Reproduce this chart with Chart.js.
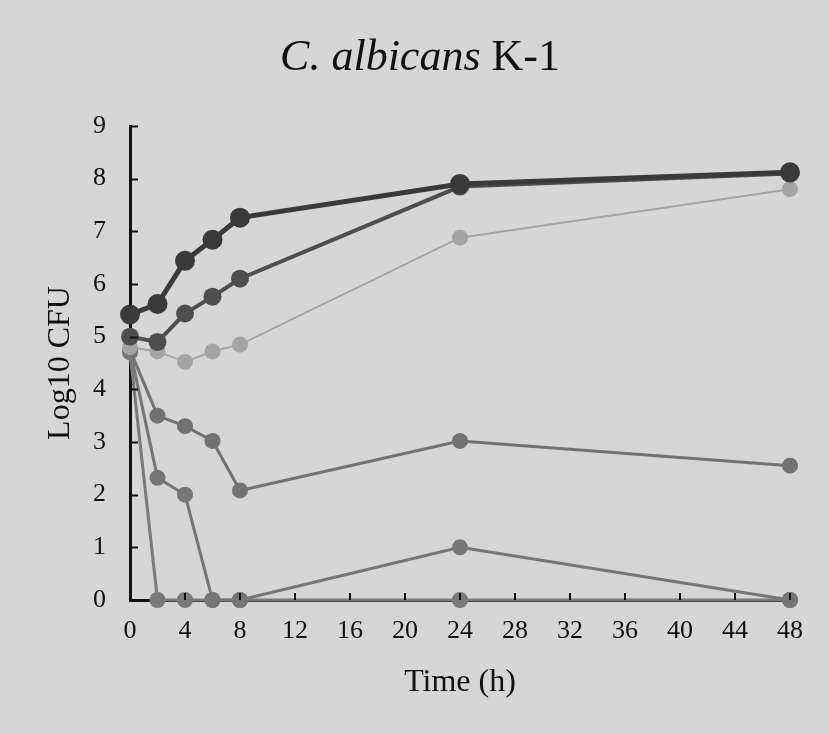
<!DOCTYPE html>
<html>
<head>
<meta charset="utf-8">
<script src="https://cdn.jsdelivr.net/npm/chart.js@4/dist/chart.umd.min.js"></script>
<style>
  html, body { margin: 0; padding: 0; background: #d6d6d6; }
  #wrap { width: 829px; height: 734px; }
</style>
</head>
<body>
<div id="wrap"><canvas id="grafica"></canvas></div>
<script>
// tiempos (h)
const horas = [0, 2, 4, 6, 8, 24, 48];

// Log10 CFU por serie
const serie1 = [5.42, 5.62, 6.44, 6.84, 7.26, 7.9, 8.12];
const serie2 = [5.0, 4.9, 5.44, 5.76, 6.1, 7.85, 8.1];
const serie3 = [4.8, 4.72, 4.52, 4.72, 4.85, 6.88, 7.8];
const serie4 = [4.75, 3.5, 3.3, 3.02, 2.08, 3.02, 2.55];
const serie5 = [4.75, 2.32, 2.0, 0, 0, 1.0, 0];
const serie6 = [4.7, 0, 0, 0, 0, 0, 0];

const xTicks = [0, 4, 8, 12, 16, 20, 24, 28, 32, 36, 40, 44, 48];
const yTicks = [0, 1, 2, 3, 4, 5, 6, 7, 8, 9];

const FONT = "'Liberation Serif', 'Times New Roman', serif";

const puntos = vals => vals.map((v, i) => ({ x: horas[i], y: v }));

function serie(vals, color, ancho, radio) {
    return {
        data: puntos(vals),
        borderColor: color,
        backgroundColor: color,
        borderWidth: ancho,
        pointRadius: radio,
        pointBorderWidth: 0,
        pointBackgroundColor: color,
        tension: 0,
        clip: false
    };
}

// fondo, titulo y marcas hacia dentro
const extras = {
    id: "extras",
    beforeDraw(chart) {
        const c = chart.ctx;
        c.save();
        c.fillStyle = "#d6d6d6";
        c.fillRect(0, 0, chart.width, chart.height);
        c.restore();
    },
    afterDraw(chart) {
        const c = chart.ctx;
        const xs = chart.scales.x, ys = chart.scales.y;
        c.save();
        c.strokeStyle = "#111";
        c.lineWidth = 2;
        yTicks.forEach(t => {
            const py = Math.round(ys.getPixelForValue(t)) + 0.5;
            c.beginPath();
            c.moveTo(xs.left, py);
            c.lineTo(xs.left + 8, py);
            c.stroke();
        });
        xTicks.forEach(t => {
            if (t === 0) return;
            const px = Math.round(xs.getPixelForValue(t));
            c.beginPath();
            c.moveTo(px, ys.bottom);
            c.lineTo(px, ys.bottom - 7);
            c.stroke();
        });

        // titulo
        c.fillStyle = "#111";
        c.textBaseline = "alphabetic";
        const parte1 = "C. albicans ";
        const parte2 = "K-1";
        c.font = "italic 44px " + FONT;
        const w1 = c.measureText(parte1).width;
        c.font = "44px " + FONT;
        const w2 = c.measureText(parte2).width;
        const x0 = 420 - (w1 + w2) / 2;
        c.font = "italic 44px " + FONT;
        c.fillText(parte1, x0, 70);
        c.font = "44px " + FONT;
        c.fillText(parte2, x0 + w1, 70);
        c.restore();
    }
};

new Chart(document.getElementById("grafica"), {
    type: "line",
    data: {
        datasets: [
            serie(serie1, "#3a3a3a", 5, 10),
            serie(serie2, "#4e4e4e", 4, 9),
            serie(serie3, "#a4a4a4", 2, 8),
            serie(serie4, "#727272", 3, 8),
            serie(serie5, "#767676", 3, 8),
            serie(serie6, "#7a7a7a", 3, 8)
        ]
    },
    options: {
        responsive: true,
        maintainAspectRatio: false,
        animation: false,
        layout: { padding: { top: 126, right: 39, bottom: 20, left: 0 } },
        plugins: {
            legend: { display: false },
            tooltip: { enabled: false }
        },
        scales: {
            x: {
                type: "linear",
                min: 0,
                max: 48,
                afterFit: s => { s.height = 114; },
                afterBuildTicks: s => { s.ticks = xTicks.map(v => ({ value: v })); },
                grid: { display: false, drawTicks: false },
                border: { display: true, color: "#111", width: 3 },
                ticks: { color: "#111", padding: 16, font: { family: FONT, size: 26 } },
                title: {
                    display: true,
                    text: "Time (h)",
                    color: "#111",
                    padding: { top: 0, bottom: 12 },
                    font: { family: FONT, size: 32 }
                }
            },
            y: {
                min: 0,
                max: 9,
                afterFit: s => { s.width = 130; },
                afterBuildTicks: s => { s.ticks = yTicks.map(v => ({ value: v })); },
                grid: { display: false, drawTicks: false },
                border: { display: true, color: "#111", width: 3 },
                ticks: { color: "#111", padding: 24, font: { family: FONT, size: 26 } },
                title: {
                    display: true,
                    text: "Log10 CFU",
                    color: "#111",
                    padding: { top: 41, bottom: 0 },
                    font: { family: FONT, size: 32 }
                }
            }
        }
    },
    plugins: [extras]
});
</script>
</body>
</html>
